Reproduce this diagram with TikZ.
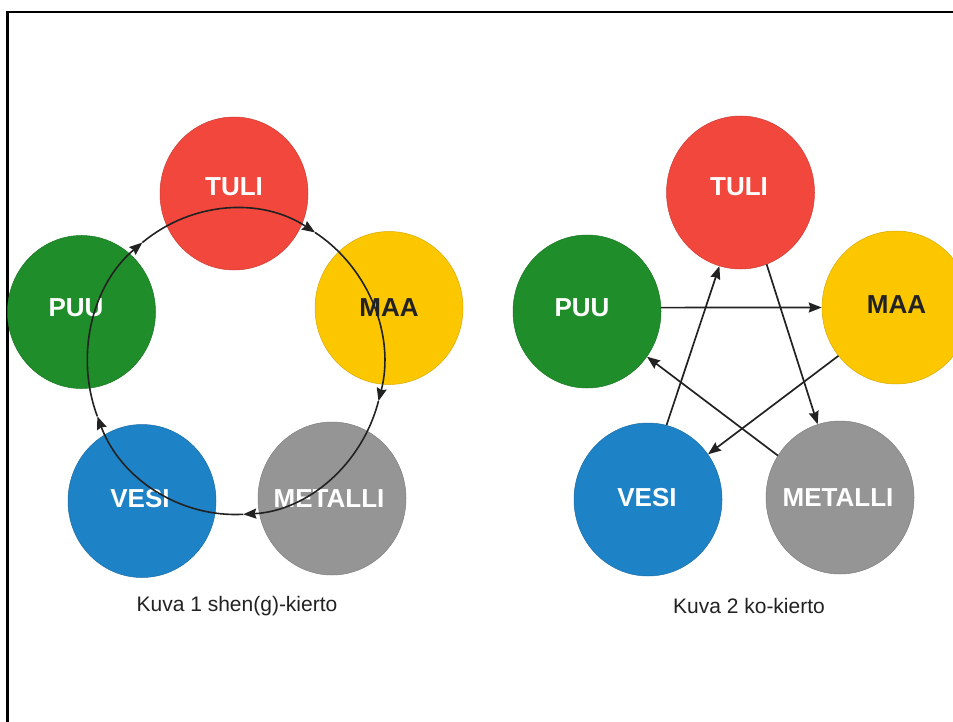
\documentclass[tikz,border=0pt]{standalone}
\usepackage{fontspec}
\setmainfont{Liberation Sans}
\usetikzlibrary{shapes.geometric,arrows.meta}
\definecolor{cred}{HTML}{F2473D}
\definecolor{cgreen}{HTML}{1F8D2A}
\definecolor{cyellow}{HTML}{FDC700}
\definecolor{cblue}{HTML}{1E82C6}
\definecolor{cgray}{HTML}{959595}
\definecolor{ink}{HTML}{222222}
\tikzset{
  elem/.style={ellipse, minimum width=148pt, minimum height=153pt, inner sep=0pt, fill=#1, draw=#1!85!black, line width=0.5pt},
  lbl/.style={font=\fontsize{26}{26}\selectfont\bfseries, text=white, inner sep=0pt},
  lbldark/.style={lbl, text=ink},
  captxt/.style={font=\fontsize{21}{21}\selectfont, text=ink, inner sep=0pt},
  cyc/.style={draw=ink, line width=1.6pt, -{Stealth[length=13pt,width=10pt,inset=1.5pt]}},
  ar/.style={draw=ink, line width=1.7pt, -{Stealth[length=13pt,width=10pt,inset=1.5pt]}},
}
\begin{document}
\begin{tikzpicture}[x=1pt,y=1pt]
\useasboundingbox (0,0) rectangle (953,-722);
\clip (0,0) rectangle (953,-722);
\fill[white] (0,0) rectangle (953,-722);
% frame
\draw[line width=2.5pt, black] (7.5,-722) -- (7.5,-12) -- (953,-12);

% ---- left diagram: shen cycle ----
\node[elem=cred]    (tuli1)    at (234,-193.5) {};
\node[elem=cgreen]  (puu1)     at (81.5,-312) {};
\node[elem=cyellow] (maa1)     at (389,-308) {};
\node[elem=cblue]   (vesi1)    at (142,-501) {};
\node[elem=cgray]   (metalli1) at (332,-498.5) {};

\node[lbl]     (tuli1t)    at (234,-187) {TULI};
\node[lbl]     (puu1t)     at (76,-308) {PUU};
\node[lbldark] (maa1t)     at (389,-308) {MAA};
\node[lbl]     (vesi1t)    at (140,-499) {VESI};
\node[lbl]     (metalli1t) at (329,-499) {METALLI};

\coordinate (O1) at (235.5,-361.5);
\draw[cyc] (O1) ++(201:148 and 153) arc[start angle=201, end angle=129, x radius=148, y radius=153];
\draw[cyc] (O1) ++(129:148 and 153) arc[start angle=129, end angle=57.5, x radius=148, y radius=153];
\draw[cyc] (O1) ++(57.5:148 and 153) arc[start angle=57.5, end angle=-15, x radius=148, y radius=153];
\draw[cyc] (O1) ++(-15:148 and 153) arc[start angle=-15, end angle=-87, x radius=148, y radius=153];
\draw[cyc] (O1) ++(-87:148 and 153) arc[start angle=-87, end angle=-159, x radius=148, y radius=153];

\node[captxt] (cap1) at (237,-606) {Kuva 1 shen(g)-kierto};

% ---- right diagram: ko cycle ----
\node[elem=cred]    (tuli2)    at (740.5,-192.5) {};
\node[elem=cgreen]  (puu2)     at (587,-311.5) {};
\node[elem=cyellow] (maa2)     at (896,-307.5) {};
\node[elem=cblue]   (vesi2)    at (648,-499.5) {};
\node[elem=cgray]   (metalli2) at (840,-497.5) {};

\node[lbl]     (tuli2t)    at (739,-187) {TULI};
\node[lbl]     (puu2t)     at (582,-308) {PUU};
\node[lbldark] (maa2t)     at (896.5,-305) {MAA};
\node[lbl]     (vesi2t)    at (647,-498) {VESI};
\node[lbl]     (metalli2t) at (838,-498) {METALLI};

\draw[ar] (puu2.3) -- (maa2.west);
\draw[ar] (vesi2.76) -- (tuli2.-106);
\draw[ar] (tuli2.-70) -- (metalli2.107);
\draw[ar] (maa2.-140) -- (vesi2.37);
\draw[ar] (metalli2.146) -- (puu2.-37);

\node[captxt] (cap2) at (749,-606) {Kuva 2 ko-kierto};
\end{tikzpicture}
\end{document}
